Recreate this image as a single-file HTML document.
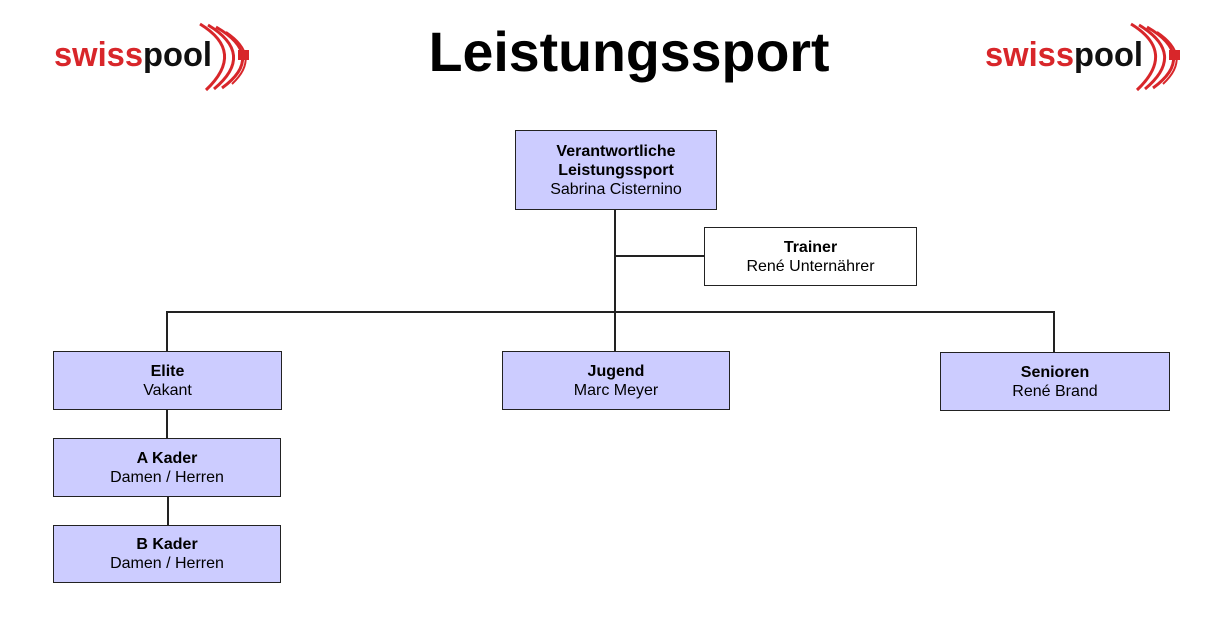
<!DOCTYPE html>
<html><head><style>
body{margin:0;width:1216px;height:638px;background:#fff;position:relative;font-family:"Liberation Sans",Arial,sans-serif;overflow:hidden}
.b{position:absolute;box-sizing:border-box;border:1.5px solid #222;background:#ccccff;display:flex;flex-direction:column;justify-content:center;align-items:center;font-size:16px;line-height:19px;color:#000;text-align:center}
.b b{font-weight:bold}
.l{position:absolute;background:#222}
.t{position:absolute;left:0;width:1258px;text-align:center;top:20px;font-size:55.5px;font-weight:bold;line-height:64px}
</style></head><body>
<div class="t">Leistungssport</div>
<svg width="1216" height="110" style="position:absolute;left:0;top:0">
<g id="lg">
<text x="54" y="66" font-family="Liberation Sans,sans-serif" font-weight="bold" font-size="34" textLength="158" lengthAdjust="spacingAndGlyphs"><tspan fill="#d8262a">swiss</tspan><tspan fill="#111">pool</tspan></text>
<path d="M200 24 Q246 52 206 90" stroke="#d8262a" stroke-width="3" fill="none"/>
<path d="M208 25 Q256 54 214 89" stroke="#d8262a" stroke-width="3" fill="none"/>
<path d="M216 27 Q266 56 222 88" stroke="#d8262a" stroke-width="3" fill="none"/>
<path d="M226 32 Q262 56 232 84" stroke="#d8262a" stroke-width="2" fill="none"/>
<rect x="238" y="50" width="11" height="10" fill="#d8262a"/>
</g>
<use href="#lg" transform="translate(931,0)"/>
</svg>
<div class="l" style="left:614px;top:209px;width:2px;height:142px"></div>
<div class="l" style="left:615px;top:255px;width:89px;height:2px"></div>
<div class="l" style="left:166px;top:311px;width:889px;height:2px"></div>
<div class="l" style="left:166px;top:311px;width:2px;height:40px"></div>
<div class="l" style="left:1053px;top:311px;width:2px;height:41px"></div>
<div class="l" style="left:166px;top:409px;width:2px;height:29px"></div>
<div class="l" style="left:167px;top:496px;width:2px;height:29px"></div>
<div class="b" style="left:515px;top:130px;width:202px;height:80px"><b>Verantwortliche</b><b>Leistungssport</b><span>Sabrina Cisternino</span></div>
<div class="b" style="left:704px;top:227px;width:213px;height:59px;background:#fff"><b>Trainer</b><span>René Unternährer</span></div>
<div class="b" style="left:53px;top:351px;width:229px;height:59px"><b>Elite</b><span>Vakant</span></div>
<div class="b" style="left:502px;top:351px;width:228px;height:59px"><b>Jugend</b><span>Marc Meyer</span></div>
<div class="b" style="left:940px;top:352px;width:230px;height:59px"><b>Senioren</b><span>René Brand</span></div>
<div class="b" style="left:53px;top:438px;width:228px;height:59px"><b>A Kader</b><span>Damen / Herren</span></div>
<div class="b" style="left:53px;top:525px;width:228px;height:58px"><b>B Kader</b><span>Damen / Herren</span></div>
</body></html>
